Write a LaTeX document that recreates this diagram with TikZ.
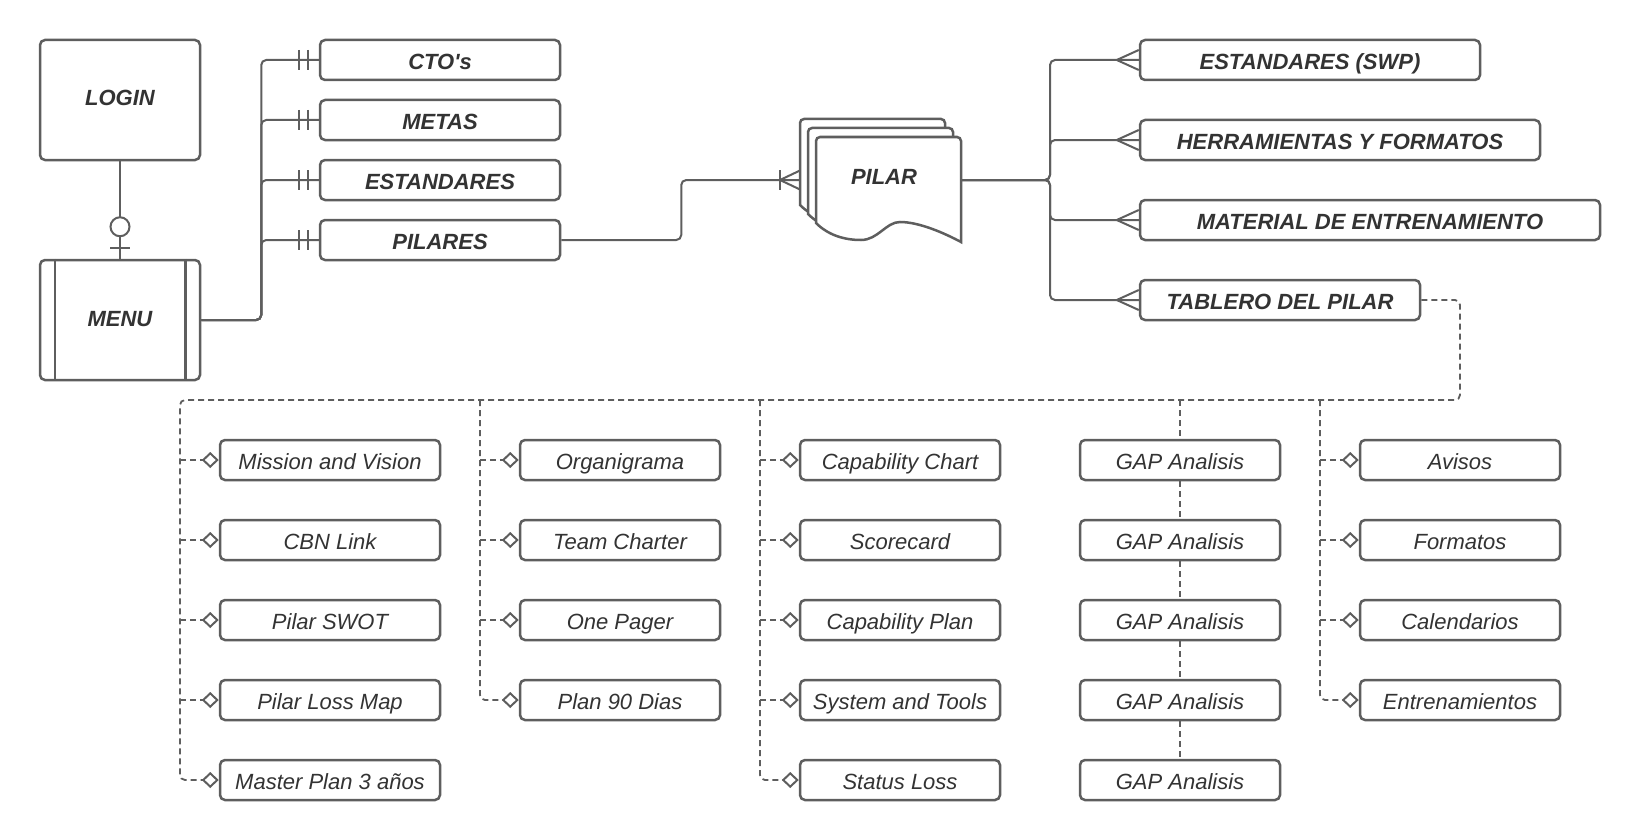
\documentclass[tikz,border=0pt]{standalone}
\usepackage{fontspec}
\setmainfont{Liberation Sans}
\usetikzlibrary{arrows.meta}
\definecolor{linegray}{HTML}{5E5E5E}
\definecolor{textgray}{HTML}{333333}
\tikzset{
  base/.style={draw=linegray,line width=2.5pt,rounded corners=5pt,fill=white,text=textgray,
    inner sep=0pt,minimum height=40pt,text height=19pt,text depth=0pt,font=\fontsize{22pt}{26pt}\selectfont\itshape},
  entbox/.style={base,font=\fontsize{22pt}{26pt}\selectfont\bfseries\itshape},
  bigbox/.style={entbox,minimum width=160pt,minimum height=120pt,text height=12pt},
  itembox/.style={base,minimum width=200pt},
  conn/.style={draw=linegray,line width=2pt},
  dashline/.style={draw=linegray,line width=1.8pt,dash pattern=on 6pt off 4pt},
  sheet/.style={draw=linegray,line width=2.5pt,fill=white},
  odiam/.tip={Diamond[open,length=17pt,width=16pt,line width=2pt]}
}
\begin{document}
\begin{tikzpicture}[x=1pt,y=-1pt]
                \useasboundingbox (0,0) rectangle (1640,840);
                \node[bigbox] (login) at (120,100) {LOGIN};
                \node[bigbox] (menu) at (120,320) {MENU};
                \draw[conn,line width=2.5pt] ([xshift=16pt]menu.north west)--([xshift=16pt]menu.south west);
                \draw[conn,line width=2.5pt] ([xshift=-16pt]menu.north east)--([xshift=-16pt]menu.south east);
                \draw[conn] (login.south)--(menu.north);
                \draw[conn,fill=white] ([yshift=32pt]menu.north) circle (9.5pt);
                \draw[conn] ([xshift=-10pt,yshift=11pt]menu.north)--([xshift=10pt,yshift=11pt]menu.north);
                \foreach \n/\t [count=\i from 0] in {ctos/CTO\textquotesingle s,metas/METAS,estandares/ESTANDARES,pilares/PILARES}{
                    \node[entbox,minimum width=240pt] (\n) at (440,60+60*\i) {\t};
                    \draw[conn,rounded corners=5pt] (menu.east)--++(60,0) |- (\n.west);
                    \draw[conn] ([xshift=-11pt,yshift=10pt]\n.west)--([xshift=-11pt,yshift=-10pt]\n.west);
                    \draw[conn] ([xshift=-20pt,yshift=10pt]\n.west)--([xshift=-20pt,yshift=-10pt]\n.west);
                }
                \foreach \sx/\sy in {800/119,808/128,816/137}{
                    \draw[sheet,shift={(\sx,\sy)}] (0,86) [rounded corners=4pt]--(0,0)--(145,0) [sharp corners]--(145,105)
                        .. controls (130,97) and (104,85) .. (84,85)
                        .. controls (70,85) and (62,103) .. (45,103)
                        .. controls (28,103) and (12,98) .. (0,86)--cycle;
                }
                \node[font=\fontsize{22pt}{26pt}\selectfont\bfseries\itshape,text=textgray] (pilar) at (884,177) {PILAR};
                \coordinate (pilarin) at (800,180);
                \coordinate (pilarout) at (961,180);
                \draw[conn,rounded corners=5pt] (pilares.east)--++(120,0) |- (pilarin);
                \draw[conn] ([xshift=-20pt,yshift=10pt]pilarin)--([xshift=-20pt,yshift=-10pt]pilarin);
                \draw[conn] ([yshift=9.5pt]pilarin)--([xshift=-20pt]pilarin)--([yshift=-9.5pt]pilarin);
                \node[entbox,minimum width=340pt] (swp) at (1310,60) {ESTANDARES (SWP)};
                \node[entbox,minimum width=400pt] (herramientas) at (1340,140) {HERRAMIENTAS Y FORMATOS};
                \node[entbox,minimum width=460pt] (material) at (1370,220) {MATERIAL DE ENTRENAMIENTO};
                \node[entbox,minimum width=280pt] (tablero) at (1280,300) {TABLERO DEL PILAR};
                \foreach \n in {swp,herramientas,material,tablero}{
                    \draw[conn,rounded corners=5pt] (pilarout)--++(89,0) |- (\n.west);
                    \draw[conn] ([yshift=10pt]\n.west)--([xshift=-22pt]\n.west)--([yshift=-10pt]\n.west);
                }
                \foreach \n/\t [count=\i from 0] in {mission/Mission and Vision,cbn/CBN Link,swot/Pilar SWOT,lossmap/Pilar Loss Map,masterplan/Master Plan 3 años}
                    \node[itembox,minimum width=220pt] (\n) at (330,460+80*\i) {\t};
                \foreach \n/\t [count=\i from 0] in {organigrama/Organigrama,charter/Team Charter,onepager/One Pager,plan90/Plan 90 Dias}
                    \node[itembox] (\n) at (620,460+80*\i) {\t};
                \foreach \n/\t [count=\i from 0] in {capchart/Capability Chart,scorecard/Scorecard,capplan/Capability Plan,systools/System and Tools,statusloss/Status Loss}
                    \node[itembox] (\n) at (900,460+80*\i) {\t};
                \foreach \i in {1,...,5}
                    \node[itembox] (gap\i) at (1180,380+80*\i) {GAP Analisis};
                \foreach \n/\t [count=\i from 0] in {avisos/Avisos,formatos/Formatos,calendarios/Calendarios,entrenamientos/Entrenamientos}
                    \node[itembox] (\n) at (1460,460+80*\i) {\t};
                \coordinate (busr) at (1460,400);
                \coordinate (busl) at (180,400);
                \coordinate (c2) at (480,400);
                \coordinate (c3) at (760,400);
                \coordinate (c4) at (1180,400);
                \coordinate (c5) at (1320,400);
                \draw[dashline,rounded corners=5pt,-odiam] (tablero.east) -| (busr)--(busl) |- (masterplan.west);
                \foreach \n/\c in {plan90/c2,statusloss/c3,entrenamientos/c5}
                    \draw[dashline,rounded corners=5pt,-odiam] (\c) |- (\n.west);
                \foreach \n/\c in {mission/busl,cbn/busl,swot/busl,lossmap/busl,organigrama/c2,charter/c2,onepager/c2,capchart/c3,scorecard/c3,capplan/c3,systools/c3,avisos/c5,formatos/c5,calendarios/c5}
                    \draw[dashline,-odiam] (\n.west -| \c)--(\n.west);
                \draw[dashline] (c4)--(gap1.north);
                \foreach \a/\b in {1/2,2/3,3/4,4/5}
                    \draw[dashline] (gap\a.south)--(gap\b.north);
            \end{tikzpicture}
\end{document}
